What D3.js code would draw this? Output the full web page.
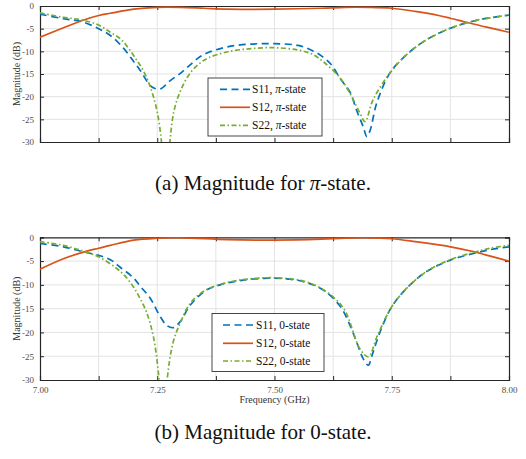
<!DOCTYPE html>
<html><head><meta charset="utf-8">
<script src="https://cdn.jsdelivr.net/npm/d3@7"></script>
<style>
html,body{margin:0;padding:0;background:#fff;}
svg{display:block;}
svg text{font-family:"Liberation Serif","Times New Roman",serif;}
</style></head>
<body><svg id="c" width="526" height="459"></svg>
<script>
// ---- data (frequency GHz, magnitude dB) ----
const piS11 = [[7.00,-1.8],[7.05,-2.8],[7.09,-3.5],[7.125,-5.0],[7.15,-6.5],[7.178,-9.3],[7.20,-12.3],[7.213,-14.1],[7.238,-17.8],[7.256,-18.3],[7.277,-16.5],[7.30,-14.8],[7.32,-13.0],[7.341,-11.2],[7.36,-10.2],[7.40,-9.0],[7.45,-8.4],[7.50,-8.3],[7.55,-8.7],[7.58,-9.8],[7.60,-11.0],[7.62,-12.8],[7.64,-16.0],[7.661,-19.0],[7.675,-23.0],[7.689,-26.6],[7.697,-28.8],[7.704,-27.4],[7.718,-21.4],[7.746,-14.8],[7.78,-10.9],[7.82,-7.7],[7.875,-4.9],[7.925,-3.3],[7.96,-2.6],[8.00,-2.0]];
const piS12 = [[7.00,-6.9],[7.05,-4.8],[7.09,-3.2],[7.125,-2.1],[7.15,-1.6],[7.20,-0.7],[7.25,-0.3],[7.30,-0.3],[7.35,-0.5],[7.40,-0.7],[7.50,-0.7],[7.60,-0.5],[7.65,-0.3],[7.70,-0.3],[7.75,-0.5],[7.80,-1.2],[7.85,-2.1],[7.875,-2.7],[7.913,-3.7],[7.95,-4.6],[8.00,-5.8]];
const piS22 = [[7.00,-1.5],[7.05,-2.5],[7.09,-3.1],[7.125,-4.2],[7.15,-5.8],[7.171,-7.2],[7.19,-9.5],[7.206,-11.9],[7.22,-14.2],[7.235,-17.8],[7.249,-22.9],[7.259,-30],[7.268,-45],[7.277,-30],[7.286,-23.0],[7.30,-18.6],[7.32,-14.8],[7.341,-12.6],[7.36,-11.4],[7.40,-10.1],[7.45,-9.4],[7.50,-9.2],[7.55,-9.7],[7.58,-10.6],[7.604,-12.3],[7.64,-15.9],[7.661,-19.3],[7.682,-23.6],[7.693,-25.5],[7.71,-20.7],[7.746,-14.8],[7.78,-10.9],[7.82,-7.7],[7.875,-4.9],[7.925,-3.3],[7.96,-2.6],[8.00,-2.0]];

const zeroS11 = [[7.00,-1.3],[7.05,-2.0],[7.09,-3.0],[7.125,-3.8],[7.15,-4.7],[7.171,-6.3],[7.199,-8.5],[7.213,-10.2],[7.235,-12.8],[7.256,-16.6],[7.27,-18.5],[7.284,-19.0],[7.30,-17.6],[7.32,-14.3],[7.355,-11.1],[7.384,-10.0],[7.433,-9.0],[7.50,-8.6],[7.561,-9.3],[7.604,-11.1],[7.64,-14.5],[7.661,-18.5],[7.675,-22.0],[7.689,-25.5],[7.700,-26.9],[7.707,-25.1],[7.725,-19.9],[7.75,-14.6],[7.782,-10.7],[7.824,-7.2],[7.875,-4.8],[7.924,-3.4],[7.96,-2.6],[8.00,-2.0]];
const zeroS12 = [[7.00,-6.7],[7.05,-4.5],[7.10,-2.9],[7.125,-2.3],[7.15,-1.7],[7.20,-0.6],[7.25,-0.2],[7.30,-0.1],[7.40,-0.5],[7.50,-0.6],[7.60,-0.4],[7.65,-0.2],[7.70,-0.1],[7.75,-0.3],[7.80,-0.9],[7.85,-1.6],[7.875,-2.0],[7.924,-3.0],[7.95,-3.7],[8.00,-5.0]];
const zeroS22 = [[7.00,-0.9],[7.05,-1.7],[7.092,-2.9],[7.125,-4.1],[7.163,-6.5],[7.18,-8.0],[7.199,-10.4],[7.213,-12.8],[7.227,-15.7],[7.242,-21.0],[7.254,-30],[7.262,-42],[7.271,-30],[7.284,-22],[7.30,-17.8],[7.32,-13.9],[7.348,-11.4],[7.384,-9.9],[7.433,-8.9],[7.50,-8.5],[7.561,-9.2],[7.604,-11.0],[7.647,-14.9],[7.682,-23.4],[7.700,-25.1],[7.72,-20.5],[7.75,-14.6],[7.782,-10.7],[7.824,-7.2],[7.875,-4.7],[7.924,-3.2],[7.96,-2.3],[8.00,-1.7]];

const xTicks = [7.00,7.125,7.25,7.375,7.50,7.625,7.75,7.875,8.00];
const xTickLabels = {"7":"7.00","7.25":"7.25","7.5":"7.50","7.75":"7.75","8":"8.00"};
const yTicks = [0,-5,-10,-15,-20,-25,-30];
const piLabels = ["S11, ","S12, ","S22, "];
const zeroLabels = ["S11, 0-state","S12, 0-state","S22, 0-state"];
const colors = ["#0072BD","#D95319","#77AC30"];
const dashes = ["7,4.5", null, "5,2.5,1.5,2.5"];

const SERIF = "Liberation Serif, Times New Roman, serif";
const svg = d3.select("#c");

function panel(id, top, bottom, series, showX, legendBox, labels, isPi){
  const x = d3.scaleLinear().domain([7,8]).range([40,509]);
  const y = d3.scaleLinear().domain([-30,0]).range([bottom, top]);
  const g = svg.append("g");
  g.append("clipPath").attr("id","clip"+id).append("rect")
    .attr("x",40).attr("y",top).attr("width",469).attr("height",bottom-top);
  // grid
  g.append("g").selectAll("line").data(xTicks.slice(1,-1)).join("line")
    .attr("x1",d=>x(d)).attr("x2",d=>x(d)).attr("y1",top).attr("y2",bottom)
    .attr("stroke","#e3e3e3").attr("stroke-width",1);
  g.append("g").selectAll("line").data(yTicks.slice(1,-1)).join("line")
    .attr("y1",d=>y(d)).attr("y2",d=>y(d)).attr("x1",40).attr("x2",509)
    .attr("stroke","#e3e3e3").attr("stroke-width",1);
  // axes with inward ticks
  const axL = d3.axisLeft(y).tickValues(yTicks).tickSize(-4).tickPadding(6).tickFormat(d=>d===0?"0":"-"+Math.abs(d));
  const axR = d3.axisRight(y).tickValues(yTicks).tickSize(-4).tickFormat("");
  const axB = d3.axisBottom(x).tickValues(xTicks).tickSize(-4).tickPadding(7).tickFormat(d=>showX?(xTickLabels[String(+d.toFixed(3))]||""):"");
  const axT = d3.axisTop(x).tickValues(xTicks).tickSize(-4).tickFormat("");
  const styleAx = s => { s.attr("font-family",SERIF);
    s.selectAll("path").attr("stroke","#262626").attr("stroke-width",1.2);
    s.selectAll("line").attr("stroke","#262626");
    s.selectAll("text").attr("fill","#4d4d4d").attr("font-family",SERIF).style("font-size","9px"); };
  g.append("g").attr("transform","translate(40,0)").call(axL).call(styleAx);
  g.append("g").attr("transform","translate(509,0)").call(axR).call(styleAx);
  g.append("g").attr("transform",`translate(0,${bottom})`).call(axB).call(styleAx);
  g.append("g").attr("transform",`translate(0,${top})`).call(axT).call(styleAx);
  // lines
  const line = d3.line().x(d=>x(d[0])).y(d=>y(d[1])).curve(d3.curveCatmullRom.alpha(0.5));
  const lg = g.append("g").attr("clip-path",`url(#clip${id})`);
  series.forEach((s,i)=>{
    lg.append("path").datum(s).attr("d",line).attr("fill","none")
      .attr("stroke",colors[i]).attr("stroke-width",1.7)
      .attr("stroke-dasharray",dashes[i]);
  });
  // y label
  g.append("text").attr("transform",`translate(20,${(top+bottom)/2}) rotate(-90)`)
    .attr("text-anchor","middle").attr("fill","#333").attr("font-family",SERIF).style("font-size","10px").text("Magnitude (dB)");
  if(showX){
    g.append("text").attr("x",x(7.5)).attr("y",bottom+23).attr("text-anchor","middle")
      .attr("fill","#333").attr("font-family",SERIF).style("font-size","10px").text("Frequency (GHz)");
  }
  // legend
  const [lx0,ly0,lx1,ly1,rowY,lineX0,lineX1,textX] = legendBox;
  const L = g.append("g");
  L.append("rect").attr("x",lx0).attr("y",ly0).attr("width",lx1-lx0).attr("height",ly1-ly0)
    .attr("fill","#fff").attr("stroke","#333").attr("stroke-width",0.9);
  labels.forEach((lab,i)=>{
    const yy = rowY[i];
    L.append("line").attr("x1",lineX0).attr("x2",lineX1).attr("y1",yy).attr("y2",yy)
      .attr("stroke",colors[i]).attr("stroke-width",1.7).attr("stroke-dasharray",dashes[i]);
    const t = L.append("text").attr("x",textX).attr("y",yy+4).attr("fill","#111")
      .attr("font-family",SERIF).style("font-size","11.5px");
    t.append("tspan").text(lab);
    if(isPi){
      t.append("tspan").style("font-style","italic").text("π");
      t.append("tspan").text("-state");
    }
  });
}

panel("a", 6, 142, [piS11,piS12,piS22], false,
  [208,78,322,136,[89.3,107.3,125.3],220,250,252], piLabels, true);
panel("b", 237.3, 380, [zeroS11,zeroS12,zeroS22], true,
  [212,313.5,324,371.5,[325,343.3,361],223,253,256], zeroLabels, false);

// captions
const capA = svg.append("text").attr("x",263).attr("y",190).attr("text-anchor","middle")
  .attr("fill","#111").attr("font-family",SERIF).style("font-size","21px");
capA.append("tspan").text("(a)  Magnitude for ");
capA.append("tspan").style("font-style","italic").text("π");
capA.append("tspan").text("-state.");
svg.append("text").attr("x",263).attr("y",439).attr("text-anchor","middle")
  .attr("fill","#111").attr("font-family",SERIF).style("font-size","21px").text("(b)  Magnitude for 0-state.");
</script></body></html>
